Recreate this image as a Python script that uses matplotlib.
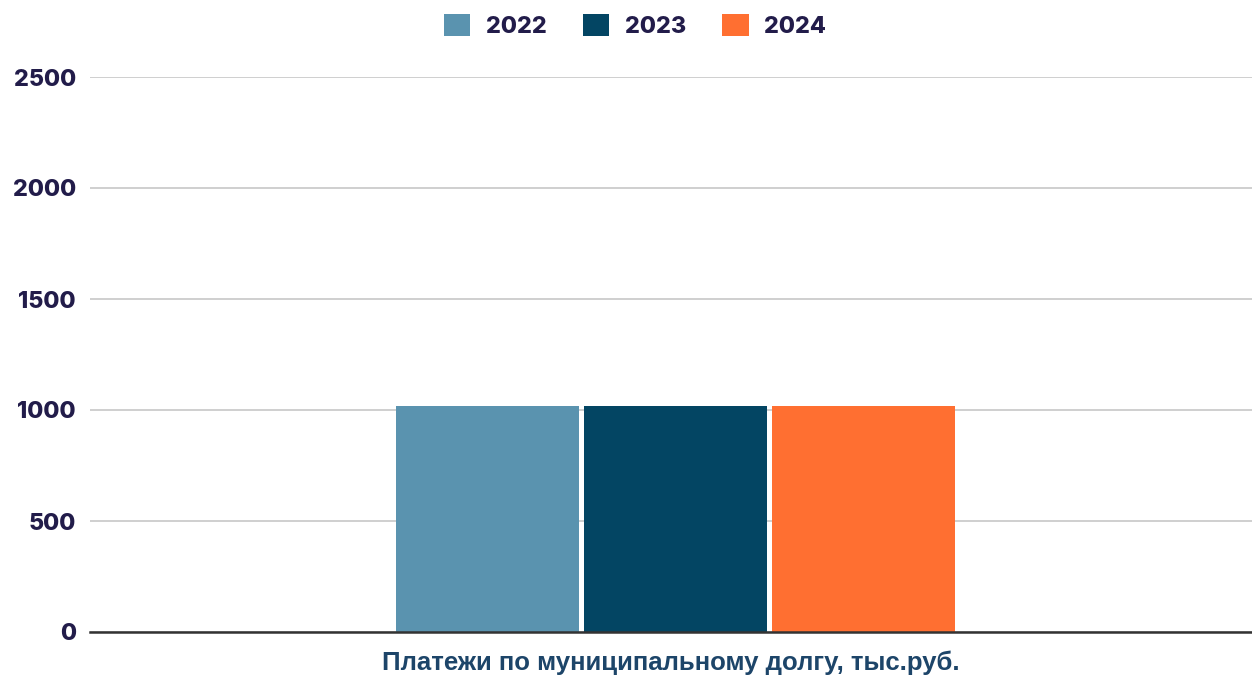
import matplotlib
matplotlib.use("Agg")
import matplotlib.pyplot as plt
import numpy as np

category = "Платежи по муниципальному долгу, тыс.руб."
years = ["2022", "2023", "2024"]
values = [1018, 1018, 1018]
colors = ["#5A93AF", "#034563", "#FF6F31"]
yticks = [0, 500, 1000, 1500, 2000, 2500]

plt.rcParams['font.family'] = ['Inter', 'DejaVu Sans']

fig = plt.figure(figsize=(12.52, 6.75), dpi=100)
ax = fig.add_axes([90/1252, 1-632/675, 1-90/1252, (632-77)/675])

width = 0.1575
step = 0.1618
offsets = (np.arange(len(years)) - 1) * step
for off, v, c, lab in zip(offsets, values, colors, years):
    ax.bar(off, v, width=width, color=c, label=lab, zorder=3)

ax.set_xlim(-0.504, 0.496)
ax.set_ylim(0, 2500)
ax.set_yticks(yticks)
ax.set_xticks([])
ax.yaxis.grid(True, color="#CCCCCC", linewidth=1.3, zorder=0)
ax.set_axisbelow(True)
for s in ["top", "right", "left"]:
    ax.spines[s].set_visible(False)
ax.spines["bottom"].set_color("#333333")
ax.spines["bottom"].set_linewidth(1.8)
ax.spines["bottom"].set_zorder(4)
ax.tick_params(axis="y", length=0, pad=10, labelsize=16.8, labelcolor="#221C4A")
for t in ax.get_yticklabels():
    t.set_fontweight("heavy")

ax.set_xlabel(category, fontsize=18.5, fontweight="bold", color="#1D4569", labelpad=13,
              family=['Liberation Sans', 'DejaVu Sans'])

leg = fig.legend(loc="upper center", bbox_to_anchor=(0.5 + 0.007, 1.01), ncol=3, frameon=False,
                 prop={"size": 16.8, "weight": "heavy"}, handlelength=1.15, handleheight=1.05,
                 columnspacing=1.55, handletextpad=0.65)
for t in leg.get_texts():
    t.set_color("#221C4A")

fig.savefig("out.png", dpi=100)
